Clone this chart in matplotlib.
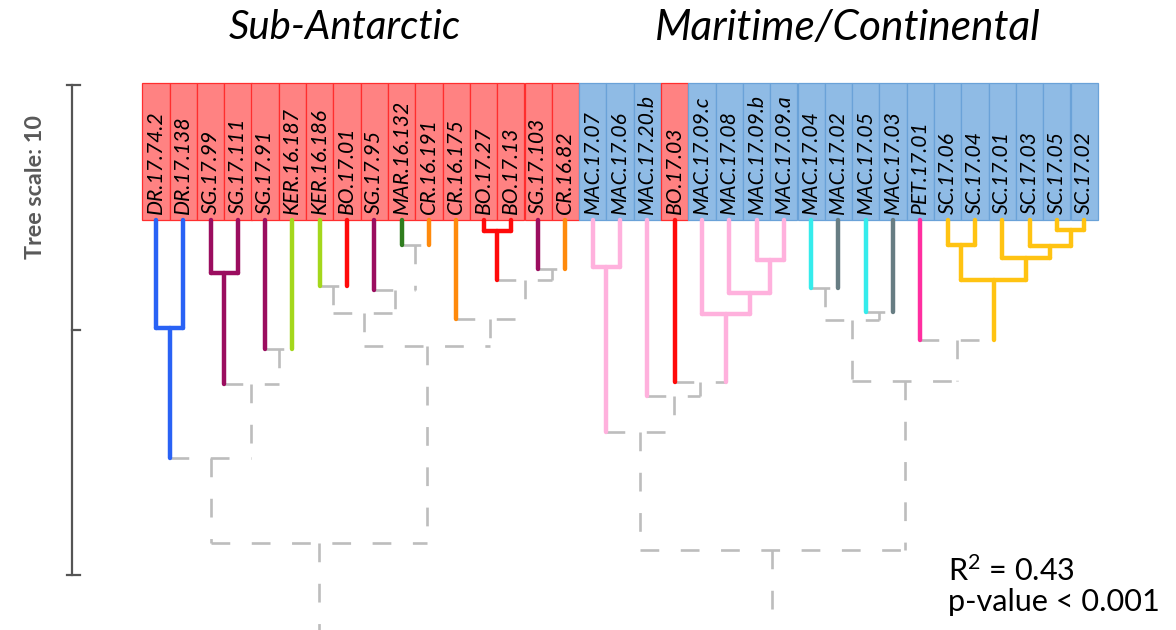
import matplotlib
matplotlib.use("Agg")
import matplotlib.pyplot as plt

# ---------------- data ----------------
leaves = ["DR.17.74.2", "DR.17.138", "SG.17.99", "SG.17.111", "SG.17.91",
          "KER.16.187", "KER.16.186", "BO.17.01", "SG.17.95", "MAR.16.132",
          "CR.16.191", "CR.16.175", "BO.17.27", "BO.17.13", "SG.17.103",
          "CR.16.82", "MAC.17.07", "MAC.17.06", "MAC.17.20.b", "BO.17.03",
          "MAC.17.09.c", "MAC.17.08", "MAC.17.09.b", "MAC.17.09.a", "MAC.17.04",
          "MAC.17.02", "MAC.17.05", "MAC.17.03", "PET.17.01", "SC.17.06",
          "SC.17.04", "SC.17.01", "SC.17.03", "SC.17.05", "SC.17.02"]

# S = sub-Antarctic (red box), M = maritime/continental (blue box)
regions = ["S"] * 16 + ["M", "M", "M", "S"] + ["M"] * 15

leaf_groups = ["blue", "blue", "purple", "purple", "purple", "lime", "lime", "red",
               "purple", "dgreen", "orange", "orange", "red", "red", "purple", "orange",
               "pink", "pink", "pink", "red", "pink", "pink", "pink", "pink",
               "cyan", "slate", "cyan", "slate", "magenta",
               "yellow", "yellow", "yellow", "yellow", "yellow", "yellow"]

# internal nodes: (name, child a, child b, height in tree units)
nodes = [
    ("n1", "DR.17.74.2", "DR.17.138", 2.20),
    ("n2", "SG.17.99", "SG.17.111", 1.08),
    ("n3", "SG.17.91", "KER.16.187", 2.63),
    ("n4", "n2", "n3", 3.35),
    ("n5", "n1", "n4", 4.86),
    ("n6", "KER.16.186", "BO.17.01", 1.35),
    ("n7", "MAR.16.132", "CR.16.191", 0.51),
    ("n8", "SG.17.95", "n7", 1.43),
    ("n9", "n6", "n8", 1.90),
    ("n10", "BO.17.27", "BO.17.13", 0.22),
    ("n11", "SG.17.103", "CR.16.82", 1.00),
    ("n12", "n10", "n11", 1.22),
    ("n13", "CR.16.175", "n12", 2.02),
    ("n14", "n9", "n13", 2.57),
    ("n15", "n5", "n14", 6.60),
    ("m1", "MAC.17.07", "MAC.17.06", 0.96),
    ("m2", "MAC.17.09.b", "MAC.17.09.a", 0.82),
    ("m3", "MAC.17.08", "m2", 1.49),
    ("m4", "MAC.17.09.c", "m3", 1.92),
    ("m5", "BO.17.03", "m4", 3.30),
    ("m6", "MAC.17.20.b", "m5", 3.59),
    ("m7", "m1", "m6", 4.33),
    ("m8", "MAC.17.04", "MAC.17.02", 1.39),
    ("m9", "MAC.17.05", "MAC.17.03", 1.87),
    ("m10", "m8", "m9", 2.04),
    ("s1", "SC.17.06", "SC.17.04", 0.50),
    ("s2", "SC.17.05", "SC.17.02", 0.21),
    ("s3", "SC.17.03", "s2", 0.54),
    ("s4", "SC.17.01", "s3", 0.77),
    ("s5", "s1", "s4", 1.23),
    ("m11", "PET.17.01", "s5", 2.45),
    ("m12", "m10", "m11", 3.29),
    ("m13", "m7", "m12", 6.73),
    ("root", "n15", "m13", 9.20),
]

scale_len = 10
group_titles = ["Sub-Antarctic", "Maritime/Continental"]
stats_lines = ["R$^2$ = 0.43", "p-value < 0.001"]

# ---------------- styles ----------------
palette = {"blue": "#2962f5", "purple": "#9b0d5f", "lime": "#a4d71c", "red": "#ff0a0a",
           "dgreen": "#2f7d1e", "orange": "#ff8a0c", "pink": "#ffb1dd", "cyan": "#35ecec",
           "slate": "#677d83", "magenta": "#ff2ea0", "yellow": "#ffc312"}
box_fill = {"S": "#ff8282", "M": "#8fbbe5"}
box_edge = {"S": "#ff2e2e", "M": "#6aa2d8"}
gray = "#bdbdbd"

plt.rcParams["font.family"] = ["Lato", "DejaVu Sans"]
plt.rcParams["mathtext.default"] = "regular"
plt.rcParams["lines.scale_dashes"] = False

W, H = 1176, 630
fig = plt.figure(figsize=(W / 100, H / 100), dpi=100)
ax = fig.add_axes([0, 0, 1, 1])
ax.set_axis_off()

# layout (pixel geometry of the reference)
X0, DX = 142.3, 27.3     # left edge of first label box, width per leaf
Y0, PPU = 220.0, 49.0    # tip line, pixels per tree unit
ax.set_xlim((0 - X0) / DX - 0.5, (W - X0) / DX - 0.5)
ax.set_ylim((H - Y0) / PPU, (0 - Y0) / PPU)
def px2x(p): return (p - X0) / DX - 0.5
def py2y(p): return (p - Y0) / PPU

renderer = fig.canvas.get_renderer()
def fit(t, target, vertical=False):
    t.set_fontsize(20)
    bb = t.get_window_extent(renderer)
    size = bb.height if vertical else bb.width
    t.set_fontsize(20 * target / size)

# label boxes
box_top = py2y(82.7)
idx = list(range(len(leaves)))
ax.bar(idx, [box_top] * len(leaves), bottom=0, width=1.0,
       color=[box_fill[r] for r in regions], edgecolor=[box_edge[r] for r in regions],
       linewidth=0.9, zorder=1)

# leaf labels
for i, name in enumerate(leaves):
    t = ax.text(i, py2y(213.5), name, rotation=90, ha="center", va="bottom",
                style="italic", color="black", zorder=3)
    if name == "MAR.16.132":
        ref = t
fit(ref, 114, vertical=True)
fs_lab = ref.get_fontsize()
for t in ax.texts:
    t.set_fontsize(fs_lab)

# tree
pos = {name: (i, 0.0) for i, name in enumerate(leaves)}
col = {name: palette[g] for name, g in zip(leaves, leaf_groups)}
lw_c, lw_g = 3.2, 1.9
dash = (0, (13.5, 15.5))
def seg(xs, ys, c):
    if c is None:
        ax.plot(xs, ys, color=gray, lw=lw_g, linestyle=dash, zorder=2,
                solid_capstyle="butt", dash_capstyle="butt")
    else:
        ax.plot(xs, ys, color=c, lw=lw_c, solid_capstyle="round", zorder=4)

for name, a, b, h in nodes:
    xa, ha_ = pos[a]
    xb, hb = pos[b]
    ca, cb = col[a], col[b]
    nc = ca if (ca is not None and ca == cb) else None
    seg([xa, xa], [ha_, h], ca)
    seg([xb, xb], [hb, h], cb)
    seg([xa, xb], [h, h], nc)
    pos[name] = ((xa + xb) / 2, h)
    col[name] = nc

# tree scale bar
sx = px2x(72.5)
stop = py2y(84.5)
sc = "#555555"
ax.plot([sx, sx], [stop, stop + scale_len], color=sc, lw=1.6, zorder=2)
for k, half in ((0, True), (scale_len, True), (scale_len / 2, False)):
    x_left = px2x(67.5) if half else sx
    ax.plot([x_left, px2x(80.5)], [stop + k, stop + k], color=sc, lw=1.6, zorder=2)
ts = fig.text(36 / W, 1 - 187 / H, "Tree scale: " + str(scale_len), rotation=90,
              ha="center", va="center", fontweight="bold", color="#595959")
fit(ts, 144, vertical=True)

# group titles
t1 = fig.text(228.3 / W, 1 - 39.3 / H, group_titles[0], ha="left", va="baseline",
              style="italic", color="black")
fit(t1, 232)
t2 = fig.text(655 / W, 1 - 40 / H, group_titles[1], ha="left", va="baseline",
              style="italic", color="black")
fit(t2, 386)

# stats text
s2 = fig.text(948.3 / W, 1 - 611.5 / H, stats_lines[1], ha="left", va="baseline", color="black")
fit(s2, 212)
s1 = fig.text(948.3 / W, 1 - 580.7 / H, stats_lines[0], ha="left", va="baseline",
              color="black", fontsize=s2.get_fontsize())

fig.savefig("out.png", dpi=100)
